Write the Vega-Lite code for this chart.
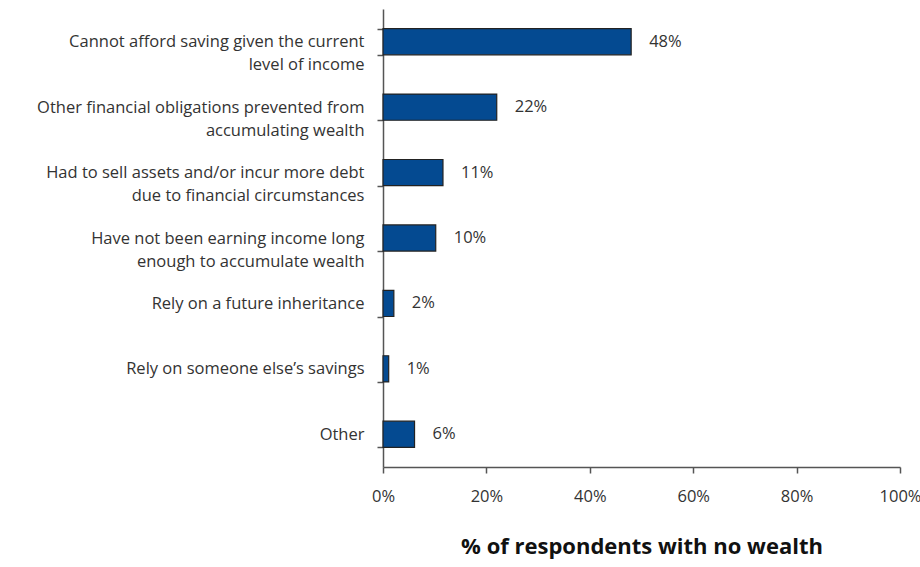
{
  "$schema": "https://vega.github.io/schema/vega-lite/v6.json",
  "width": 517,
  "height": 458,
  "autosize": {"type": "none"},
  "padding": {"left": 383, "top": 9, "right": 20, "bottom": 100},
  "background": "white",
  "data": {
    "values": [
      {"reason": "Cannot afford saving given the current\nlevel of income", "pct": 48, "label": "48%"},
      {"reason": "Other financial obligations prevented from\naccumulating wealth", "pct": 22, "label": "22%"},
      {"reason": "Had to sell assets and/or incur more debt\ndue to financial circumstances", "pct": 11.6, "label": "11%"},
      {"reason": "Have not been earning income long\nenough to accumulate wealth", "pct": 10.2, "label": "10%"},
      {"reason": "Rely on a future inheritance", "pct": 2.1, "label": "2%"},
      {"reason": "Rely on someone else’s savings", "pct": 1.1, "label": "1%"},
      {"reason": "Other", "pct": 6.1, "label": "6%"}
    ]
  },
  "config": {
    "view": {"stroke": null},
    "font": "Open Sans"
  },
  "encoding": {
    "y": {
      "field": "reason",
      "type": "nominal",
      "sort": null,
      "scale": {"paddingInner": 0.6, "paddingOuter": 0.3},
      "axis": {
        "title": null,
        "labelExpr": "split(datum.label, '\\n')",
        "labelFont": "Open Sans",
        "labelFontSize": 16.5,
        "labelColor": "#333333",
        "labelLineHeight": 23,
        "labelPadding": 13,
        "labelLimit": 400,
        "tickBand": "extent",
        "tickSize": 6,
        "tickColor": "#555555",
        "domainColor": "#555555",
        "tickWidth": 1.5,
        "domainWidth": 1.5
      }
    }
  },
  "layer": [
    {
      "mark": {"type": "bar", "color": "#044a91", "stroke": "#222222", "strokeWidth": 1.2},
      "encoding": {
        "x": {
          "field": "pct",
          "type": "quantitative",
          "scale": {"domain": [0, 100]},
          "axis": {
            "title": "% of respondents with no wealth",
            "titleFont": "Open Sans",
            "titleFontSize": 22,
            "titleFontWeight": "bold",
            "titleColor": "#111111",
            "titlePadding": 32,
            "values": [0, 20, 40, 60, 80, 100],
            "labelExpr": "datum.value + '%'",
            "labelFont": "Open Sans",
            "labelFontSize": 16.5,
            "labelColor": "#333333",
            "labelPadding": 15,
            "labelFlush": false,
            "labelOverlap": false,
            "tickSize": 6,
            "tickColor": "#555555",
            "domainColor": "#555555",
            "tickWidth": 1.5,
            "domainWidth": 1.5,
            "grid": false
          }
        }
      }
    },
    {
      "mark": {"type": "text", "align": "left", "dx": 18, "font": "Open Sans", "fontSize": 16.5, "color": "#333333"},
      "encoding": {
        "x": {"field": "pct", "type": "quantitative"},
        "text": {"field": "label"}
      }
    }
  ]
}
